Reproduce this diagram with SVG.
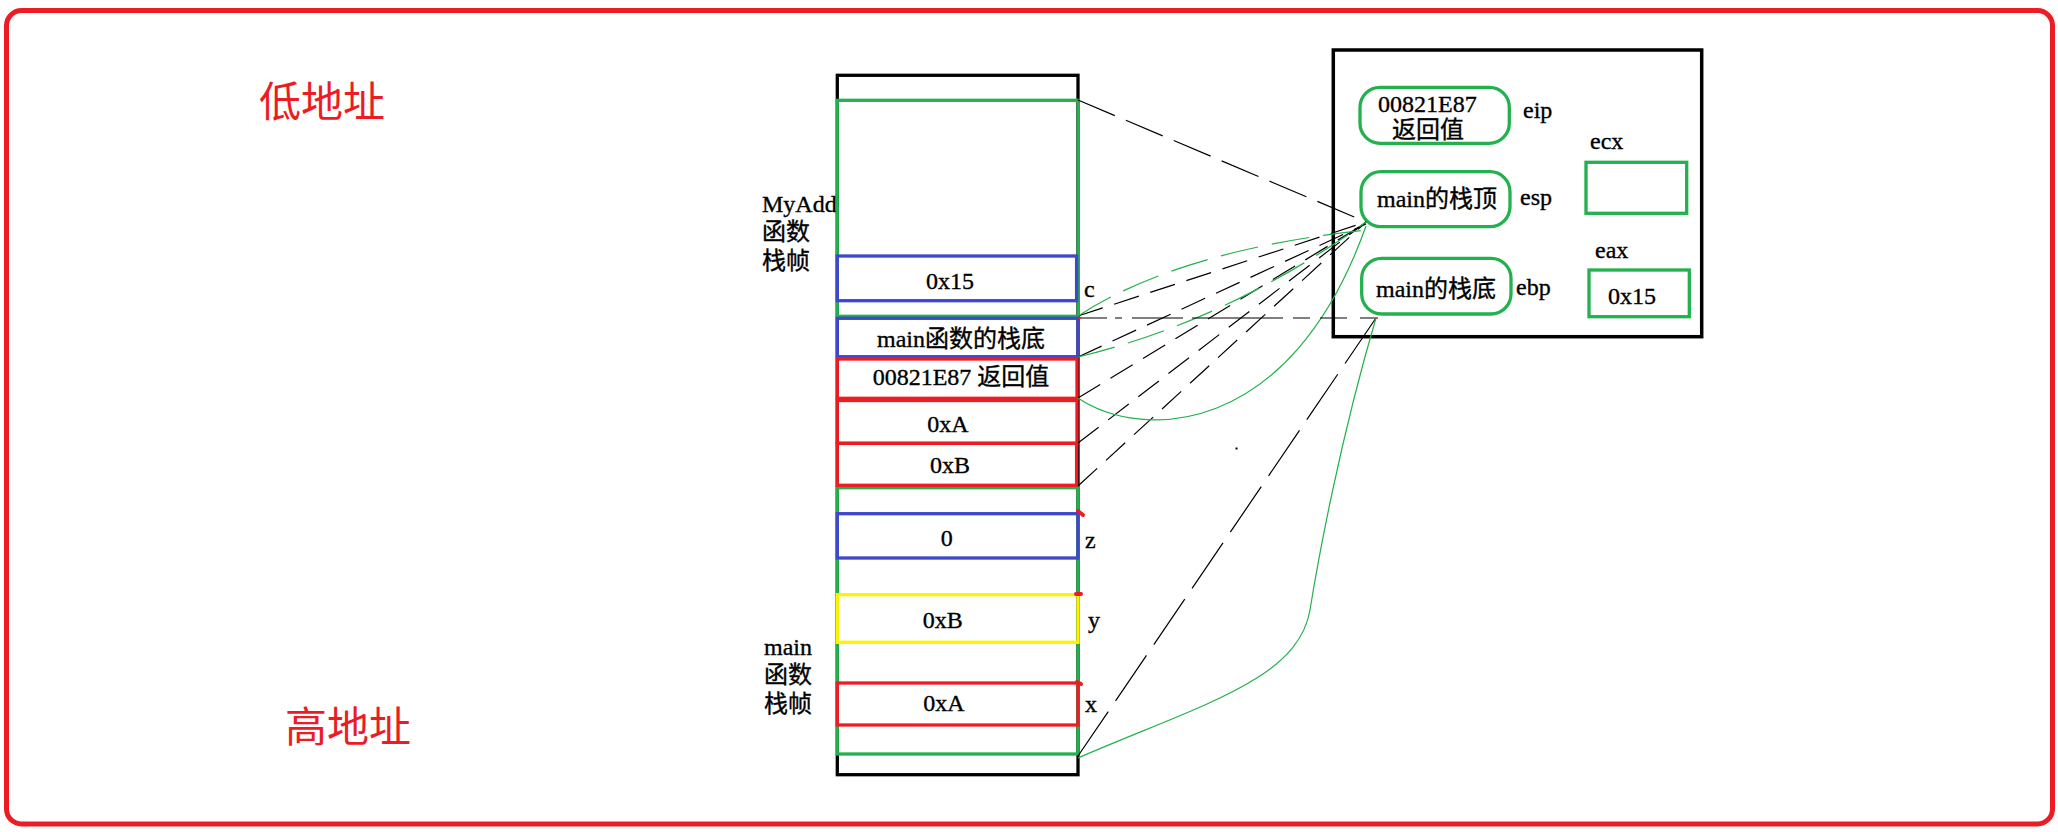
<svg xmlns="http://www.w3.org/2000/svg" width="2058" height="832" viewBox="0 0 2058 832">
<style>
.t{font-family:"Liberation Serif","Noto Sans CJK SC",serif;fill:#000;font-size:24px;stroke:#000;stroke-width:0.35}
.m{text-anchor:middle}
.big{font-family:"Noto Sans CJK SC",sans-serif;font-size:42px;fill:#ED1C24}
.r{fill:none;stroke:#ED1C24;stroke-width:3.3}
.g{fill:none;stroke:#22B14C;stroke-width:3.3}
.b{fill:none;stroke:#3F48CC;stroke-width:3.3}
.y{fill:none;stroke:#FFF200;stroke-width:3.3}
.k{fill:none;stroke:#000;stroke-width:3.3}
.dk{fill:none;stroke:#000;stroke-width:1.2;stroke-dasharray:26 12}
.dg{fill:none;stroke:#22B14C;stroke-width:1.2;stroke-dasharray:38 14}
.sg{fill:none;stroke:#22B14C;stroke-width:1.2}
.dot{fill:none;stroke:#ED1C24;stroke-width:4;stroke-linecap:round}
</style>
<rect x="0" y="0" width="2058" height="832" fill="#fff"/>
<rect x="6.5" y="10.5" width="2046" height="813.5" rx="15" fill="none" stroke="#ED1C24" stroke-width="5"/>

<g id="labels">
<text class="big" x="259" y="117">低地址</text>
<text class="big" x="285" y="742">高地址</text>
<text class="t" x="762" y="212" font-size="21">MyAdd</text>
<text class="t" x="762" y="240" font-size="22">函数</text>
<text class="t" x="762" y="269" font-size="22">栈帧</text>
<text class="t" x="764" y="655" font-size="21">main</text>
<text class="t" x="764" y="683" font-size="22">函数</text>
<text class="t" x="764" y="712" font-size="22">栈帧</text>
</g>

<g id="stack">
<rect class="k" x="837.3" y="75.3" width="240.7" height="699.4"/>
<rect class="g" x="837.3" y="100.3" width="241" height="216"/>
<rect class="g" x="837.3" y="487.7" width="240.7" height="266.3"/>
</g>

<g id="slot-c">
<rect class="b" x="837.3" y="256" width="239.3" height="44.7"/>
<text class="t m" x="950" y="289">0x15</text>
<text class="t" x="1084" y="297" font-size="22">c</text>
</g>
<g id="slot-ebp">
<rect class="b" x="837.3" y="318.3" width="240.7" height="38.4"/>
<text class="t m" x="961" y="347">main函数的栈底</text>
</g>
<g id="slot-ret">
<rect class="r" x="837.3" y="359" width="239.7" height="39.3"/>
<text class="t m" x="961" y="385">00821E87 返回值</text>
</g>
<g id="slot-a">
<rect class="r" x="837.3" y="400.5" width="239.7" height="42.8"/>
<text class="t m" x="948" y="432">0xA</text>
</g>
<g id="slot-b">
<rect class="r" x="837.3" y="443.3" width="239.3" height="42"/>
<text class="t m" x="950" y="473">0xB</text>
</g>
<g id="slot-z">
<rect class="b" x="837.3" y="513.7" width="240.7" height="44.3"/>
<text class="t m" x="946.7" y="546">0</text>
<text class="t" x="1085" y="548" font-size="22">z</text>
</g>
<g id="slot-y">
<rect class="y" x="837.3" y="594.7" width="240.7" height="47.6"/>
<text class="t m" x="942.7" y="628">0xB</text>
<text class="t" x="1088" y="628" font-size="22">y</text>
</g>
<g id="slot-x">
<rect class="r" x="837.3" y="683" width="240.7" height="42"/>
<text class="t m" x="944" y="711">0xA</text>
<text class="t" x="1085" y="712" font-size="22">x</text>
</g>

<g id="registers">
<rect x="1333.3" y="50" width="368.4" height="286.7" fill="none" stroke="#000" stroke-width="3.5"/>
</g>
<g id="reg-eip">
<rect class="g" x="1360" y="87.3" width="149.3" height="56" rx="20"/>
<text class="t" x="1378" y="112" font-size="25">00821E87</text>
<text class="t" x="1392" y="138" font-size="24">返回值</text>
<text class="t" x="1523" y="118" font-size="25">eip</text>
</g>
<g id="reg-esp">
<rect class="g" x="1361" y="171.7" width="149" height="55" rx="20"/>
<text class="t" x="1377" y="206.5" font-size="21">main的栈顶</text>
<text class="t" x="1520" y="205" font-size="25">esp</text>
</g>
<g id="reg-ebp">
<rect class="g" x="1361.7" y="258.3" width="149.3" height="55.7" rx="20"/>
<text class="t" x="1376" y="296.5" font-size="21">main的栈底</text>
<text class="t" x="1516" y="295" font-size="25">ebp</text>
</g>
<g id="reg-ecx">
<text class="t" x="1590" y="149" font-size="25">ecx</text>
<rect class="g" x="1586" y="162.3" width="100.7" height="51"/>
</g>
<g id="reg-eax">
<text class="t" x="1595" y="258" font-size="25">eax</text>
<rect class="g" x="1589" y="270" width="100.3" height="46.7"/>
<text class="t" x="1608" y="304" font-size="25">0x15</text>
</g>

<g id="connectors">
<path d="M1078,100 L1366,222" fill="none" stroke="#000" stroke-width="1.2" stroke-dasharray="40 12"/>
<path class="dk" d="M1078,316 L1366,222"/>
<path class="dk" d="M1078,357 L1366,224"/>
<path class="dk" d="M1078,398 L1366,223"/>
<path class="dk" d="M1078,443 L1366,222"/>
<path class="dk" d="M1078,486 L1366,222"/>
<path class="dg" d="M1078,316 Q1180,250 1366,230"/>
<path class="dg" d="M1078,357 Q1230,320 1366,222"/>
<path class="sg" d="M1078,398 C1140,440 1290,440 1366,226"/>
<path d="M1080,318 L1376,318" fill="none" stroke="#000" stroke-width="1.2" stroke-dasharray="27 8 7 10 51 9 91 10 17 10 27 13 15 20"/>
<path d="M1376,318 L1078,756" fill="none" stroke="#000" stroke-width="1.2" stroke-dasharray="55 13"/>
<path class="sg" d="M1376,318 C1340,440 1318,560 1310,610 C1298,680 1200,705 1078,758"/>
<rect x="1235.5" y="447.5" width="2" height="2" fill="#000"/>
<path class="dot" d="M1078,511 L1083,515"/>
<path class="dot" d="M1076,594 L1081,594"/>
<path class="dot" d="M1077,682 L1081,684"/>
<path d="M1078,318 L1081,318" stroke="#ED1C24" stroke-width="1.5"/>
<path d="M1375,318 L1378,318" stroke="#ED1C24" stroke-width="1.5"/>
</g>
</svg>
